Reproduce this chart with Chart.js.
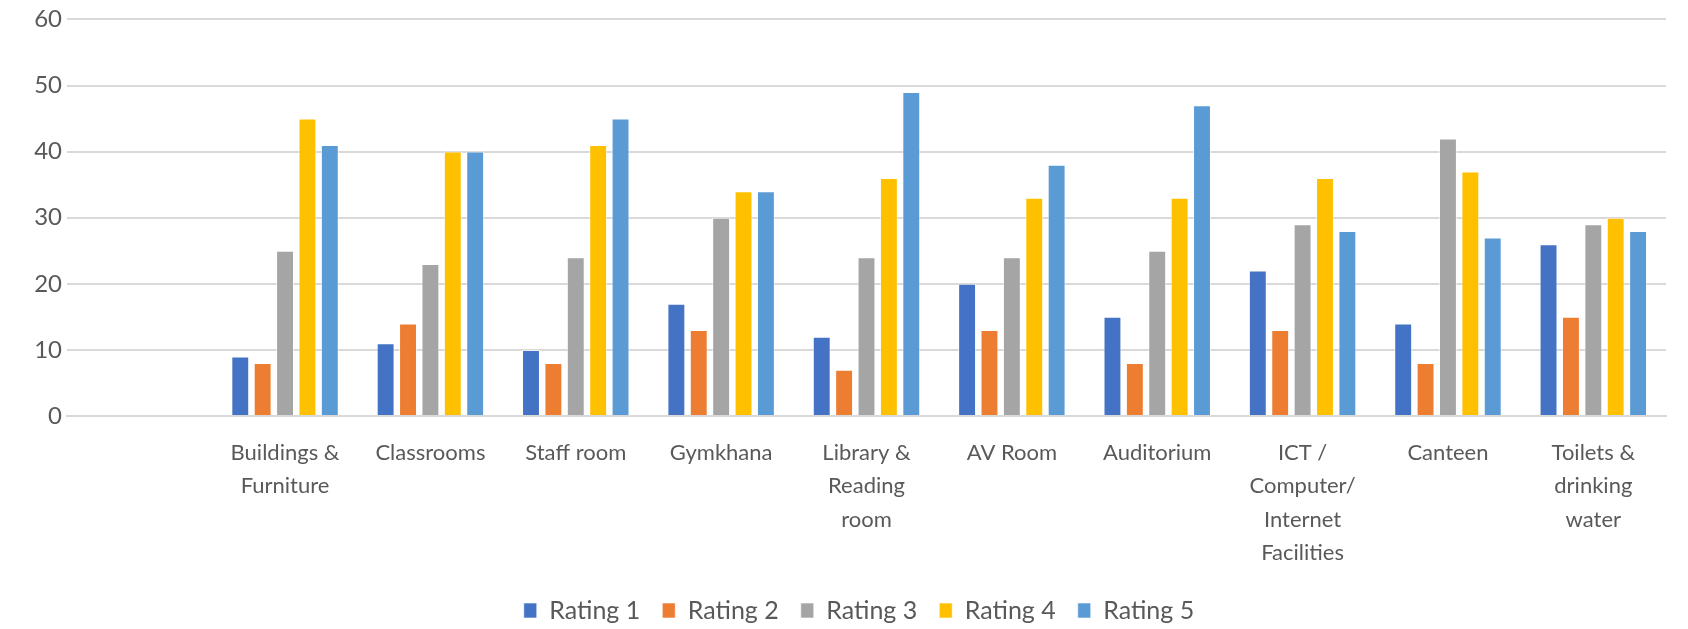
<!DOCTYPE html>
<html><head><meta charset="utf-8">
<script src="https://cdn.jsdelivr.net/npm/chart.js@4.4.0/dist/chart.umd.min.js"></script>
<style>html,body{margin:0;padding:0;background:#fff}#wrap{width:1688px;height:629px}</style>
</head><body><div id="wrap"><canvas id="c" width="1688" height="629"></canvas></div>
<script>
const categories = [[""], ["Buildings &","Furniture"], ["Classrooms"], ["Staff room"], ["Gymkhana"], ["Library &","Reading","room"], ["AV Room"], ["Auditorium"], ["ICT /","Computer/","Internet","Facilities"], ["Canteen"], ["Toilets &","drinking","water"]];
const seriesNames = ["Rating 1","Rating 2","Rating 3","Rating 4","Rating 5"];
const rating1 = [null, 9, 11, 10, 17, 12, 20, 15, 22, 14, 26];
const rating2 = [null, 8, 14, 8, 13, 7, 13, 8, 13, 8, 15];
const rating3 = [null, 25, 23, 24, 30, 24, 24, 25, 29, 42, 29];
const rating4 = [null, 45, 40, 41, 34, 36, 33, 33, 36, 37, 30];
const rating5 = [null, 41, 40, 45, 34, 49, 38, 47, 28, 27, 28];
const yTicks = [0, 10, 20, 30, 40, 50, 60];
const colors = ["#4472C4","#ED7D31","#A5A5A5","#FFC000","#5B9BD5"];
const values = [rating1, rating2, rating3, rating4, rating5];
const font = "Lato, 'Open Sans', sans-serif";
new Chart(document.getElementById('c'), {
  type: 'bar',
  data: {
    labels: categories,
    datasets: seriesNames.map((n, i) => ({
      label: n, data: values[i], backgroundColor: colors[i],
      borderColor: 'rgba(255,255,255,0.6)', borderWidth: 1, borderSkipped: 'bottom',
      categoryPercentage: 0.77, barPercentage: 0.8
    }))
  },
  options: {
    responsive: false, animation: false, devicePixelRatio: 1,
    layout: { padding: { top: 10, right: 22, left: 0, bottom: 0 } },
    plugins: {
      tooltip: { enabled: false },
      legend: {
        position: 'bottom',
        labels: { color: '#595959', font: { family: font, size: 25 }, boxWidth: 13, boxHeight: 15, padding: 22 }
      }
    },
    scales: {
      x: {
        afterFit: (s) => { s.height = 160; },
        grid: { display: false, drawTicks: false },
        border: { display: true, color: '#D9D9D9', width: 2 },
        ticks: { color: '#595959', font: { family: font, size: 22, lineHeight: 1.52 }, padding: 20, maxRotation: 0, autoSkip: false }
      },
      y: {
        min: 0, max: 60,
        afterFit: (s) => { s.width = 67; },
        afterBuildTicks: (s) => { s.ticks = yTicks.map(v => ({ value: v })); },
        grid: { color: '#D9D9D9', lineWidth: 2, drawTicks: false },
        border: { display: false },
        ticks: { color: '#595959', font: { family: font, size: 24 }, padding: 5 }
      }
    }
  },
  plugins: [{
    id: 'legendFit',
    afterInit(chart) {
      const lg = chart.legend;
      const fit = lg.fit;
      lg.fit = function () { fit.call(this); this.height = 53; };
    },
    afterLayout(chart) {
      const lg = chart.legend;
      lg.left += 26; lg.right += 26;
    }
  }]
});
</script></body></html>
